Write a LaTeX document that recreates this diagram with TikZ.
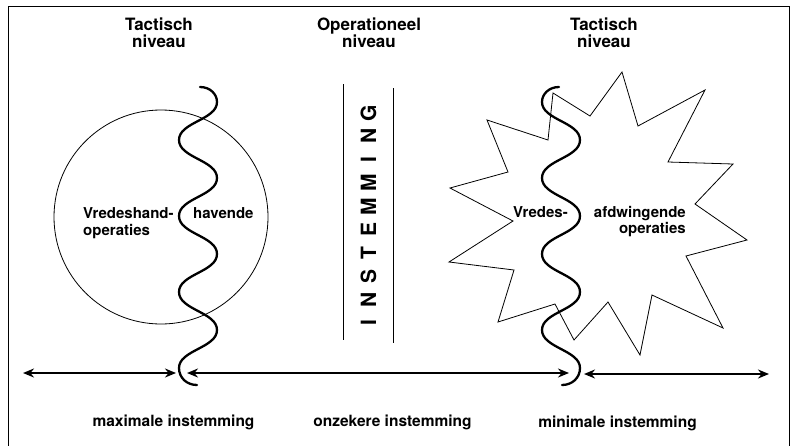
\documentclass[tikz,border=0pt]{standalone}
\usepackage{fontspec}
\setmainfont{TeX Gyre Heros}
\usepackage{tikz}
\usetikzlibrary{arrows.meta}

\begin{document}
\begin{tikzpicture}[x=1pt,y=-1pt,
   niveau kop/.style={align=center,inner sep=0pt,anchor=north,font=\fontsize{17}{16.5}\selectfont\bfseries},
   veld tekst/.style={inner sep=0pt,font=\fontsize{15}{16.5}\selectfont\bfseries},
   onder tekst/.style={inner sep=0pt,anchor=base,font=\fontsize{15.5}{17}\selectfont\bfseries},
   instemming letter/.style={inner sep=0pt,rotate=90,font=\fontsize{21}{21}\selectfont\bfseries},
   golf lijn/.style={line width=2.3pt,line cap=round},
   dun/.style={line width=0.8pt},
   pijl/.style={line width=2pt,{Stealth[length=11pt,width=9pt]}-{Stealth[length=11pt,width=9pt]}},
   golf/.pic={
     \draw[golf lijn] (2,87) .. controls (12,87) and (19,94) .. (19,102)
       .. controls (19,120) and (-19,122) .. (-19,140)
       .. controls (-19,158) and (19,160) .. (19,178)
       .. controls (19,196) and (-19,198) .. (-19,216)
       .. controls (-19,234) and (19,236) .. (19,254)
       .. controls (19,272) and (-19,274) .. (-19,292)
       .. controls (-19,310) and (19,312) .. (19,330)
       .. controls (19,348) and (-19,350) .. (-19,368)
       .. controls (-19,378) and (-11,385) .. (-1,385);
   }]

  \useasboundingbox (0,0) rectangle (793,445);
  \draw[dun] (8,450) -- (8,6) -- (789,6) -- (789,450);

  % koppen
  \node[niveau kop] (kop links) at (159,18) {Tactisch\\niveau};
  \node[niveau kop] (kop midden) at (369,18) {Operationeel\\niveau};
  \node[niveau kop] (kop rechts) at (604,18) {Tactisch\\niveau};

  % vredeshandhavende operaties
  \draw[dun] (161,217) circle[radius=107];
  \pic at (198,0) {golf};
  \node[veld tekst,align=left,anchor=north west] (handhaven links) at (83,207.5) {Vredeshand-\\operaties};
  \node[veld tekst,anchor=north west] (handhaven rechts) at (193,207.5) {havende};

  % instemming
  \draw[dun] (343,84) -- (343,340);
  \draw[dun] (393,88) -- (393,343);
  \foreach \ltr [count=\i] in {I,N,S,T,E,M,M,I,N,G}
    \node[instemming letter] (letter\i) at (368.5,346.3-23.33*\i) {\ltr};

  % vredesafdwingende operaties
  \draw[dun,line join=miter] (553,93) -- (590,116) -- (622,72) -- (638,126) -- (705,90) -- (668,162)
    -- (733,164) -- (695,204) -- (747,240) -- (686,256) -- (723,328) -- (652,295)
    -- (640,355) -- (608,302) -- (574,340) -- (555,304) -- (498,322) -- (514,270)
    -- (449,262) -- (513,221) -- (450,188) -- (508,172) -- (487,120) -- (548,140) -- cycle;
  \pic[xscale=-1] at (561,0) {golf};
  \node[veld tekst,anchor=north west] (afdwingen links) at (513,206) {Vredes-};
  \node[veld tekst,align=right,anchor=north east] (afdwingen rechts) at (686,206) {afdwingende\\operaties};

  % pijlen
  \coordinate (max links) at (23,373);
  \coordinate (max rechts) at (176,373);
  \coordinate (onz links) at (187,373);
  \coordinate (onz rechts) at (569,373);
  \coordinate (min links) at (584,374);
  \coordinate (min rechts) at (769,374);
  \draw[pijl] (max links) -- (max rechts);
  \draw[pijl] (onz links) -- (onz rechts);
  \draw[pijl] (min links) -- (min rechts);

  \node[onder tekst] (maximaal) at (173.5,426) {maximale instemming};
  \node[onder tekst] (onzeker) at (392.5,426) {onzekere instemming};
  \node[onder tekst] (minimaal) at (617.5,427) {minimale instemming};
\end{tikzpicture}
\end{document}
